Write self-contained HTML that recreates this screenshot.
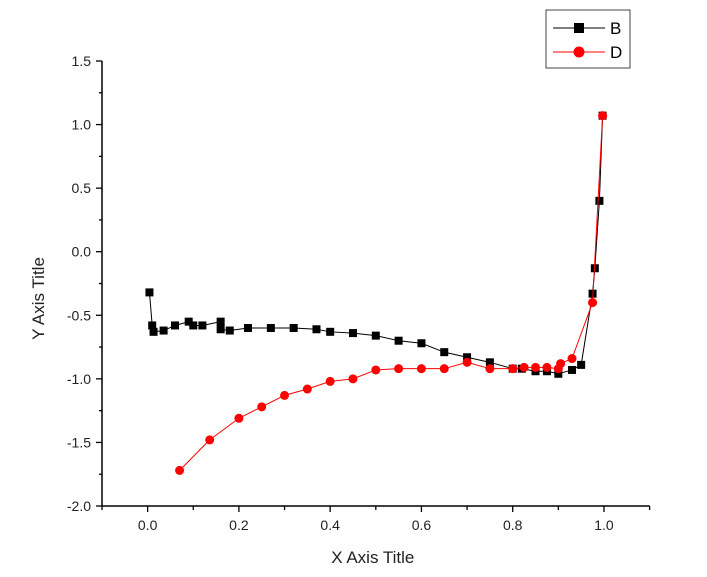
<!DOCTYPE html>
<html><head><meta charset="utf-8"><style>
body{margin:0;background:#fff;}
svg{display:block;font-family:"Liberation Sans",sans-serif;}
</style></head><body>
<svg id="chart" width="707" height="577"></svg>
<script>
const bX=[0.004,0.01,0.013,0.035,0.06,0.09,0.10,0.12,0.16,0.16,0.18,0.22,0.27,0.32,0.37,0.40,0.45,0.50,0.55,0.60,0.65,0.70,0.75,0.80,0.82,0.85,0.875,0.90,0.93,0.95,0.975,0.98,0.99,0.997];
const bY=[-0.32,-0.58,-0.63,-0.62,-0.58,-0.55,-0.58,-0.58,-0.55,-0.61,-0.62,-0.60,-0.60,-0.60,-0.61,-0.63,-0.64,-0.66,-0.70,-0.72,-0.79,-0.83,-0.87,-0.92,-0.92,-0.94,-0.94,-0.96,-0.93,-0.89,-0.33,-0.13,0.40,1.07];
const dX=[0.07,0.136,0.20,0.25,0.30,0.35,0.40,0.45,0.50,0.55,0.60,0.65,0.70,0.75,0.80,0.825,0.85,0.875,0.90,0.905,0.93,0.975,0.997];
const dY=[-1.72,-1.48,-1.31,-1.22,-1.13,-1.08,-1.02,-1.00,-0.93,-0.92,-0.92,-0.92,-0.87,-0.92,-0.92,-0.91,-0.91,-0.91,-0.92,-0.88,-0.84,-0.40,1.07];
const xTicks=[0.0,0.2,0.4,0.6,0.8,1.0];
const xTickLabels=["0.0","0.2","0.4","0.6","0.8","1.0"];
const yTicks=[1.5,1.0,0.5,0.0,-0.5,-1.0,-1.5,-2.0];
const yTickLabels=["1.5","1.0","0.5","0.0","-0.5","-1.0","-1.5","-2.0"];

const NS="http://www.w3.org/2000/svg";
const svg=document.getElementById('chart');
const X0=102,X1=649.6,Y0=506,Y1=61;
const xmin=-0.1,xmax=1.1,ymin=-2.0,ymax=1.5;
const sx=v=>X0+(v-xmin)/(xmax-xmin)*(X1-X0);
const sy=v=>Y0-(v-ymin)/(ymax-ymin)*(Y0-Y1);
function mk(t,a,p){const e=document.createElementNS(NS,t);for(const k in a)e.setAttribute(k,a[k]);(p||svg).appendChild(e);return e;}

const axes=mk('g',{});


let ax=mk('line',{x1:X0,y1:Y0,x2:X1,y2:Y0,stroke:'#000','stroke-width':1.5},axes);


ax=mk('line',{x1:X0,y1:Y0,x2:X0,y2:Y1,stroke:'#000','stroke-width':1.5},axes);


for(let i=-1;i<=11;i++){const v=i/10;const maj=i%2===0;
 mk('line',{x1:sx(v),y1:Y0,x2:sx(v),y2:Y0+(maj?6:4),stroke:'#000','stroke-width':1.3},axes);}
xTicks.forEach((v,i)=>{const t=mk('text',{x:sx(v),y:Y0+24,'text-anchor':'middle','font-size':14,fill:'#222'},axes);t.textContent=xTickLabels[i];
 
 });
for(let i=0;i<=14;i++){const v=-2+i*0.25;const maj=i%2===0;
 mk('line',{x1:X0,y1:sy(v),x2:X0-(maj?6:3),y2:sy(v),stroke:'#000','stroke-width':1.3},axes);}
yTicks.forEach((v,i)=>{const t=mk('text',{x:X0-11,y:sy(v)+5,'text-anchor':'end','font-size':14,fill:'#222'},axes);t.textContent=yTickLabels[i];
 
 });
let tt=mk('text',{x:(X0+X1)/2-3,y:563,'text-anchor':'middle','font-size':17,fill:'#222'});tt.textContent='X Axis Title';


tt=mk('text',{x:44,y:(Y0+Y1)/2+15,'text-anchor':'middle','font-size':17,fill:'#222',transform:`rotate(-90 44 ${(Y0+Y1)/2+15})`});tt.textContent='Y Axis Title';



const gB=mk('g',{});


mk('polyline',{points:bX.map((x,i)=>sx(x)+','+sy(bY[i])).join(' '),fill:'none',stroke:'#000','stroke-width':1},gB);
bX.forEach((x,i)=>{const r=mk('rect',{x:sx(x)-4,y:sy(bY[i])-4,width:8,height:8,fill:'#000'},gB);
 
 });
const gD=mk('g',{});


mk('polyline',{points:dX.map((x,i)=>sx(x)+','+sy(dY[i])).join(' '),fill:'none',stroke:'#f00','stroke-width':1},gD);
dX.forEach((x,i)=>{const c=mk('circle',{cx:sx(x),cy:sy(dY[i]),r:4.5,fill:'#f00'},gD);
 
 });

const lg=mk('g',{});


mk('rect',{x:546,y:10,width:84,height:58,fill:'#fff',stroke:'#444','stroke-width':1},lg);
mk('line',{x1:553,y1:28,x2:605,y2:28,stroke:'#000','stroke-width':1},lg);
mk('rect',{x:574,y:23,width:10,height:10,fill:'#000'},lg);
mk('line',{x1:553,y1:52,x2:605,y2:52,stroke:'#f00','stroke-width':1},lg);
mk('circle',{cx:579,cy:52,r:5.5,fill:'#f00'},lg);
let l=mk('text',{x:610,y:34,'font-size':17,fill:'#000'},lg);l.textContent='B';


l=mk('text',{x:610,y:58,'font-size':17,fill:'#000'},lg);l.textContent='D';


</script>
</body></html>
